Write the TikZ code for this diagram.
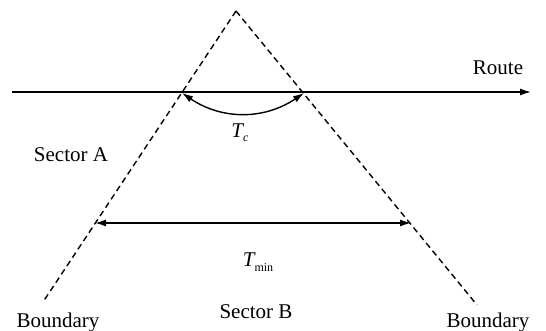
\documentclass[tikz,border=0pt]{standalone}
\usepackage{fontspec}
\setmainfont{Liberation Serif}
\usetikzlibrary{arrows.meta}
\tikzset{
  bnd/.style={line width=1.4pt, dash pattern=on 6pt off 4pt},
  solidline/.style={line width=1.4pt},
  tip/.style={-{Latex[length=11pt,width=7pt]}},
  dtip/.style={{Latex[length=11pt,width=7pt]}-{Latex[length=11pt,width=7pt]}},
  lbl/.style={inner sep=0pt, font=\fontsize{21}{25}\selectfont}
}
\begin{document}
\begin{tikzpicture}[x=1pt,y=-1pt]
\useasboundingbox (0,0) rectangle (546,331);
% boundary lines
\coordinate (apex) at (236,11);
\coordinate (lend) at (43,302);
\coordinate (rend) at (477,305);
\draw[bnd] (apex) -- (lend);
\draw[bnd] (apex) -- (rend);
% route
\coordinate (rstart) at (12,92);
\coordinate (rtip) at (531,92);
\draw[solidline, tip] (rstart) -- (rtip);
\node[lbl] (route) at (498,68) {Route};
% Tc arc
\coordinate (li) at (182,93);
\coordinate (ri) at (304,93);
\draw[solidline, dtip] (li) .. controls (222,120) and (264,120) .. (ri);
\node[lbl] (tc) at (240,133) {\itshape T\raisebox{-0.45ex}{\fontsize{12}{12}\selectfont c}};
% Tmin
\coordinate (ml) at (95,223);
\coordinate (mr) at (411,223);
\draw[solidline, dtip] (ml) -- (mr);
\node[lbl] (tmin) at (258,262) {\itshape T\raisebox{-0.5ex}{\upshape\fontsize{12}{12}\selectfont min}};
% sector labels
\node[lbl] (sa) at (71,155) {Sector A};
\node[lbl] (sb) at (256,312) {Sector B};
\node[lbl] (bl) at (58,322) {Boundary};
\node[lbl] (br) at (488,322) {Boundary};
\end{tikzpicture}
\end{document}
